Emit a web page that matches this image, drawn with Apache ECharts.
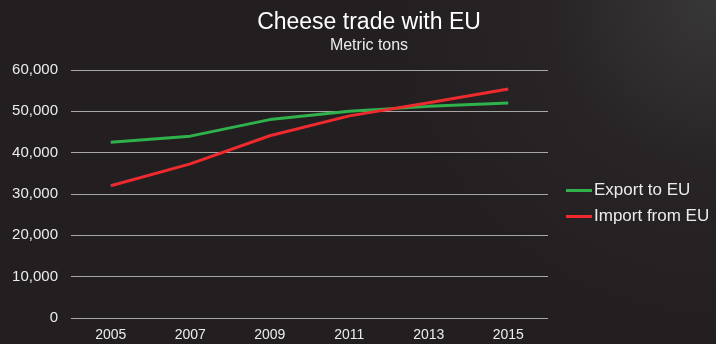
<!DOCTYPE html>
<html>
<head>
<meta charset="utf-8">
<script src="https://cdn.jsdelivr.net/npm/echarts@6/dist/echarts.min.js"></script>
<style>
  html, body { margin: 0; padding: 0; background: #231f20; }
  #chart { width: 716px; height: 344px; }
</style>
</head>
<body>
<div id="chart"></div>
<script>
// Cheese trade with the EU, metric tons
const years = ['2005', '2007', '2009', '2011', '2013', '2015'];
const exportToEU = [42500, 44000, 48000, 50000, 51200, 52000];
const importFromEU = [32000, 37300, 44100, 48900, 52100, 55400];
const yTicks = { min: 0, max: 60000, interval: 10000 };

const font = '"Liberation Sans", Arial, sans-serif';
const textColor = '#ececec';
const chart = echarts.init(document.getElementById('chart'), null, { renderer: 'canvas' });

chart.setOption({
  backgroundColor: {
    type: 'radial', x: 1, y: 0, r: 1.0,
    colorStops: [
      { offset: 0, color: '#383737' },
      { offset: 0.5, color: '#282425' },
      { offset: 1, color: '#231f20' }
    ]
  },
  textStyle: { fontFamily: font },
  title: {
    text: 'Cheese trade with EU',
    subtext: 'Metric tons',
    left: 364,
    top: 6,
    textAlign: 'center',
    itemGap: 4,
    textStyle: { color: '#ffffff', fontSize: 23, fontWeight: 'normal', fontFamily: font },
    subtextStyle: { color: textColor, fontSize: 16, fontFamily: font }
  },
  legend: {
    orient: 'vertical',
    left: 566,
    top: 182,
    padding: 0,
    itemWidth: 26,
    itemHeight: 3,
    itemGap: 9,
    icon: 'rect',
    textStyle: { color: textColor, fontSize: 17, fontFamily: font, padding: [0, 0, 0, -3] },
    data: ['Export to EU', 'Import from EU']
  },
  grid: { left: 71, right: 168, top: 70, bottom: 26, containLabel: false },
  xAxis: {
    type: 'category',
    data: years,
    boundaryGap: true,
    axisLine: { show: false },
    axisTick: { show: false },
    axisLabel: { color: textColor, fontSize: 14, margin: 10, fontFamily: font }
  },
  yAxis: {
    type: 'value',
    min: yTicks.min,
    max: yTicks.max,
    interval: yTicks.interval,
    axisLine: { show: false },
    axisTick: { show: false },
    axisLabel: {
      color: textColor, fontSize: 15, margin: 13, fontFamily: font,
      formatter: v => v.toLocaleString('en-US')
    },
    splitLine: { lineStyle: { color: '#a6a6a6', width: 1 } }
  },
  series: [
    {
      name: 'Export to EU',
      type: 'line',
      data: exportToEU,
      symbol: 'none',
      lineStyle: { color: '#2fb14b', width: 3 },
      itemStyle: { color: '#2fb14b' }
    },
    {
      name: 'Import from EU',
      type: 'line',
      data: importFromEU,
      symbol: 'none',
      lineStyle: { color: '#ee2a2f', width: 3 },
      itemStyle: { color: '#ee2a2f' }
    }
  ]
});
</script>
</body>
</html>
